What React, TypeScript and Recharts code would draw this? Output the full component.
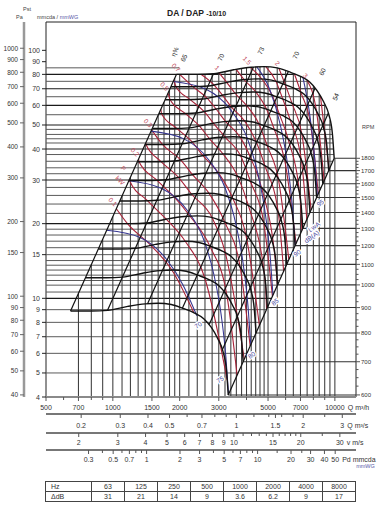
import React from 'react';
import { ComposedChart, Line, XAxis, YAxis, Scatter, ReferenceArea } from 'recharts';

// ---------------- values ----------------
// Fan characteristic at top speed: flow Q [m³/h] and static pressure [mmWG]
const fanQ = [1935, 2400, 2850, 3500, 4200, 4800, 5500, 6200, 7000, 7700, 8300, 8900, 9400, 9750, 9930];
const fanP = [80, 80, 80.5, 83.5, 85.5, 86, 85, 82, 78.5, 74.5, 69, 62, 55, 46, 36.7];
const topRpm = 1800;
const rpmCurves = [600, 700, 800, 900, 1000, 1100, 1200, 1300, 1400, 1500, 1600, 1700, 1800];
// absorbed power [kW] along the top-speed curve
const powQ = [1935, 2000, 3000, 4170, 5600, 7500, 9930];
const powKW = [0.65, 0.7, 1.0, 1.5, 2.0, 3.0, 4.1];
const powerLevels = [0.1, 0.15, 0.2, 0.25, 0.3, 0.4, 0.5, 0.6, 0.7, 0.85, 1, 1.25, 1.5, 1.75, 2, 2.5, 3, 3.5];
const powerLabelled = [0.1, 0.2, 0.3, 0.5, 0.7, 1, 1.5, 2, 3];
const powerExtraText = ['P', 'kW'];
const powerExtraQ = [1116, 1077];
const powerExtraP = [33.4, 29.9];
// efficiency lines: flow where each meets the top curve, and label
const etaTopQ = [1935, 2840, 4300, 6170, 8140, 9340];
const etaText = ['65', '70', '73', '70', '60', '54'];
// sound power lines LwA dB(A)
const noise70Q = [938, 1326, 1752, 2073, 2390];
const noise70P = [18.8, 17.6, 14.3, 11.3, 8.5];
const noise75Q = [1181, 1650, 2150, 2550, 2850, 3080, 3230, 3321];
const noise75P = [29.8, 27.8, 22.8, 17.5, 12.5, 8.5, 5.8, 4.1];
const noiseLevels = [75, 80, 85, 90, 95];
const noiseLabelText = ['70', '75', '80', '85', '90', '95', 'LwA', 'dB(A)'];
const noiseLabelQ = [2424, 3044, 4224, 5380, 6770, 8600, 8060, 7870];
const noiseLabelP = [7.8, 4.7, 5.9, 9.66, 15.2, 24.2, 19.4, 17.7];
// grid
const hLevels = [85, 80, 75, 70, 65, 60, 55, 50, 48, 45.8, 44, 42.3, 40, 38, 35.7, 33.6, 31.8, 30, 28, 26, 24, 22, 20, 19, 18, 17, 16, 15, 14.2, 13.6, 13, 12.4, 11.8, 11.3, 10.6, 10, 9, 8, 7, 6, 5];
const hMajor = [10, 20, 30, 40, 50, 60, 70, 80];
const vLines = [700, 800, 900, 1000, 1100, 1200, 1300, 1400, 1500, 1600, 1700, 1800, 1900, 2000, 2200, 2400, 2600, 2800, 3000, 3200, 3400, 3600, 3800, 4000, 4200, 4400, 4600, 4800, 5000, 5500, 6000, 6500, 7000, 7500, 8000, 8500, 9000, 9500, 10000];
// axes
const mmTicks = [4, 5, 6, 7, 8, 9, 10, 15, 20, 30, 40, 50, 60, 70, 80, 90, 100];
const paTicks = [40, 50, 60, 70, 80, 90, 100, 150, 200, 300, 400, 500, 600, 700, 800, 900, 1000];
const qLabels = [500, 700, 1000, 1500, 2000, 3000, 5000, 7000, 10000];
const qMinor = [600, 800, 900, 4000, 6000, 8000, 9000];
const qsLabels = [0.2, 0.3, 0.4, 0.5, 0.7, 1, 1.5, 2, 3];
const qsMinor = [0.6, 0.8, 0.9, 1.2, 1.4, 1.6, 1.8, 2.5];
const vLabels = [2, 3, 4, 5, 6, 7, 8, 9, 10, 15, 20, 30];
const vMinor = [11, 12, 13, 14, 16, 17, 18, 19, 25];
const pdLabels = [0.3, 0.5, 0.7, 1, 2, 3, 5, 7, 10, 20, 30, 40, 50];
const pdMinor = [0.4, 0.6, 0.8, 0.9, 4, 6, 8, 9, 15, 25];
// octave table
const hz = ['63', '125', '250', '500', '1000', '2000', '4000', '8000'];
const deltaDb = ['31', '21', '14', '9', '3.6', '6.2', '9', '17'];

// ---------------- constants ----------------
const P_MIN = 4, P_TOP = 130.1, Q_MIN = 500, Q_MAX = 12450;
const G = 9.80665, RHO = 1.2, AREA = 0.0975;

const logInterp = (xs: number[], ys: number[], x: number) => {
  const n = xs.length;
  if (x <= xs[0]) return ys[0];
  if (x >= xs[n - 1]) return ys[n - 1];
  for (let i = 1; i < n; i++) {
    if (x <= xs[i]) {
      const t = Math.log(x / xs[i - 1]) / Math.log(xs[i] / xs[i - 1]);
      return Math.exp(Math.log(ys[i - 1]) + t * Math.log(ys[i] / ys[i - 1]));
    }
  }
  return ys[n - 1];
};
const fanAt = (q: number) => logInterp(fanQ, fanP, q);
const Q0 = fanQ[0], P0 = fanP[0], QE = fanQ[fanQ.length - 1], PE = fanP[fanP.length - 1];
const sMin = rpmCurves[0] / topRpm;
const surgeP = (q: number) => P0 * (q / Q0) ** 2;
const topBoundary = (q: number) => (q < Q0 ? surgeP(q) : q <= QE ? fanAt(q) : PE);
const descQ = (P: number) => {
  for (let i = fanQ.length - 1; i > 0; i--) {
    if (fanP[i - 1] >= P && fanP[i] <= P && fanP[i - 1] !== fanP[i]) {
      const t = Math.log(P / fanP[i - 1]) / Math.log(fanP[i] / fanP[i - 1]);
      return fanQ[i - 1] * Math.pow(fanQ[i] / fanQ[i - 1], t);
    }
  }
  return QE;
};
const hEnd = (P: number) => (P > P0 ? Q0 * Math.sqrt(P / P0) : P <= PE ? QE * Math.sqrt(P / PE) : descQ(P));

type Pt = { q: number; p: number | null };
const seg = (a: Pt, b: Pt): Pt[] => [a, b, { q: b.q, p: null }];

const hMajorData = hLevels.filter((P) => hMajor.includes(P)).flatMap((P) => seg({ q: Q_MIN, p: P }, { q: hEnd(P), p: P }));
const hMinorData = hLevels.filter((P) => !hMajor.includes(P)).flatMap((P) => seg({ q: Q_MIN, p: P }, { q: hEnd(P), p: P }));
const vData = vLines.flatMap((q) => seg({ q, p: P_MIN }, { q, p: topBoundary(q) }));
const rpmData = rpmCurves.flatMap((n) => {
  const s = n / topRpm;
  const P = PE * s * s;
  return seg({ q: QE * s, p: P }, { q: Q_MAX, p: P });
});
const fanCurves = rpmCurves.map((n) => {
  const s = n / topRpm;
  return fanQ.map((q, i) => ({ q: q * s, p: fanP[i] * s * s }));
});
const etaLines = etaTopQ.map((t) => {
  const P = fanAt(t);
  return [{ q: t * sMin, p: P * sMin * sMin }, { q: t, p: P }];
});
const etaLabelData = etaTopQ.map((t, i) => ({ q: t, p: fanAt(t), t: etaText[i], i }));
const maxQLine = [{ q: QE * sMin, p: PE * sMin * sMin }, { q: QE, p: PE }];

const qForPower = (w: number) => logInterp(powKW, powQ, w);
const powerCurve = (W: number) => {
  const sStart = Math.min(1, Math.cbrt(W / powKW[0]));
  const sEnd = Math.max(sMin, Math.cbrt(W / powKW[powKW.length - 1]));
  if (sEnd >= sStart) return [] as Pt[];
  const ss = [
    sStart,
    ...rpmCurves.map((n) => n / topRpm).filter((s) => s < sStart - 1e-6 && s > sEnd + 1e-6).sort((a, b) => b - a),
    sEnd,
  ];
  return ss.map((s) => {
    const q = qForPower(W / s ** 3);
    return { q: q * s, p: fanAt(q) * s * s };
  });
};
const powerCurves = powerLevels.map(powerCurve);
const powerLabelData = powerLabelled.map((W) => ({ ...powerCurve(W)[0], t: String(W) }));
const powerExtraData = powerExtraText.map((t, i) => ({ q: powerExtraQ[i], p: powerExtraP[i], t }));

const inside = (pt: Pt) => (pt.p as number) <= topBoundary(pt.q) * 1.0005;
const cross = (a: Pt, b: Pt): Pt => {
  let lo = 0, hi = 1;
  const ia = inside(a);
  const at = (m: number) => ({ q: a.q * Math.pow(b.q / a.q, m), p: (a.p as number) * Math.pow((b.p as number) / (a.p as number), m) });
  for (let k = 0; k < 40; k++) {
    const m = (lo + hi) / 2;
    if (inside(at(m)) === ia) lo = m; else hi = m;
  }
  return at((lo + hi) / 2);
};
const clipTop = (pts: Pt[]) => {
  const out: Pt[] = [];
  pts.forEach((a, i) => {
    const ina = inside(a);
    const prevIn = i > 0 ? inside(pts[i - 1]) : ina;
    if (i > 0 && ina !== prevIn) out.push(cross(pts[i - 1], a));
    if (ina) out.push(a);
  });
  return out;
};
const noiseCurves = [
  noise70Q.map((q, i) => ({ q, p: noise70P[i] })),
  ...noiseLevels.map((L) => {
    const r = Math.pow(10, (L - noiseLevels[0]) / 50);
    return clipTop(noise75Q.map((q, i) => ({ q: q * r, p: noise75P[i] * r * r })));
  }),
];
const noiseLabelData = noiseLabelText.map((t, i) => ({ q: noiseLabelQ[i], p: noiseLabelP[i], t }));

// axis tick helpers
const buildTicks = (labels: number[], minor: number[], toQ: (v: number) => number) => {
  const map = new Map<number, string>();
  labels.forEach((v) => map.set(toQ(v), String(v)));
  const ticks = [...labels, ...minor].map(toQ).sort((a, b) => a - b);
  return { ticks, map };
};
const vToQ = (v: number) => v * AREA * 3600;
const qAx = buildTicks(qLabels, qMinor, (v) => v);
const qsAx = buildTicks(qsLabels, qsMinor, (v) => v * 3600);
const vAx = buildTicks(vLabels, vMinor, vToQ);
const pdAx = buildTicks(pdLabels, pdMinor, (pd) => vToQ(Math.sqrt((2 * G * pd) / RHO)));
const mmMap = new Map<number, string>(mmTicks.map((v) => [v, String(v)]));
const paMap = new Map<number, string>(paTicks.map((v) => [v / G, String(v)]));
const paTickVals = paTicks.map((v) => v / G);
const rpmTickVals: number[] = [];
for (let n = rpmCurves[0]; n <= topRpm; n += 25) rpmTickVals.push(n);
const rpmMap = new Map<number, string>(rpmCurves.map((n) => [n, String(n)]));
// invisible span so every secondary scale has a series bound to it
const axisSpan = [{ q: Q_MIN, p: P_MIN }, { q: Q_MAX, p: P_MIN }];

const TXT = '#333';
const mkXTick = (ax: { map: Map<number, string> }, base: number, unit: string, unitAt: number, sub?: string) => (props: any) => {
  const { x, y, payload } = props;
  const v = payload.value as number;
  const lab = ax.map.get(v);
  const isLast = lab !== undefined && lab === String(unitAt);
  const off = lab ? lab.length * 2 + 3 : 0;
  return (
    <g>
      <line x1={x} x2={x} y1={y} y2={y + (lab !== undefined ? 4 : 3)} stroke="#555" strokeWidth={1} />
      {lab !== undefined && (
        <text x={x} y={y + base} textAnchor="middle" fontSize={7} fill={TXT}>{lab}</text>
      )}
      {isLast && <text x={x + off} y={y + base} fontSize={7} fill={TXT}>{unit}</text>}
      {sub && isLast && <text x={x + off + 14} y={y + base + 6} fontSize={5.5} fill="#5a5aa8">{sub}</text>}
    </g>
  );
};
const mkYTick = (map: Map<number, string>, fs: number, color: string) => (props: any) => {
  const { x, y, payload } = props;
  return (
    <g>
      <line x1={x - 4} x2={x} y1={y} y2={y} stroke={color} strokeWidth={1} />
      <text x={x - 6} y={y + 2.5} textAnchor="end" fontSize={fs} fill={TXT}>{map.get(payload.value)}</text>
    </g>
  );
};
const rpmTick = (props: any) => {
  const { x, y, payload } = props;
  const lab = rpmMap.get(payload.value);
  return (
    <g>
      <line x1={x} x2={x + (lab ? 4 : 2.5)} y1={y} y2={y} stroke="#555" strokeWidth={1} />
      {lab && <text x={x + 5} y={y + 2.2} fontSize={6} fill={TXT}>{lab}</text>}
    </g>
  );
};

const RED = '#a82238', BLUE = '#34348f', BLK = '#121212';
const XM = 'ax1q';
const common = { xAxisId: XM, yAxisId: 'mm', dataKey: 'p', dot: false, activeDot: false, isAnimationActive: false, legendType: 'none' as const };

export default function App() {
  const cell = (w: number, left?: boolean): React.CSSProperties => ({
    border: '1px solid #444', width: w, height: 9, padding: 0, paddingLeft: left ? 5 : 0,
    textAlign: left ? 'left' : 'center', lineHeight: '9px', fontSize: 7, color: TXT,
  });
  const secAxis = { dataKey: 'q', type: 'number' as const, scale: 'log' as const, domain: [Q_MIN, Q_MAX], allowDataOverflow: true, interval: 0, tickSize: 0, tickMargin: 0, tickLine: false, axisLine: { stroke: '#777', strokeWidth: 2 } };
  return (
    <div style={{ position: 'absolute', left: 0, top: 0, width: 381, height: 516, background: '#fff', fontFamily: '"Liberation Sans", Arial, sans-serif' }}>
      <ComposedChart width={381} height={471} margin={{ top: 22, right: 0, bottom: 0, left: 0 }}>
        <XAxis xAxisId={XM} {...secAxis} ticks={qAx.ticks} height={17}
          axisLine={{ stroke: '#8a8a8a', strokeWidth: 2 }} tick={mkXTick(qAx, 13, 'Q m³/h', 10000)} />
        <XAxis xAxisId="ax2qs" {...secAxis} ticks={qsAx.ticks} height={19} tick={mkXTick(qsAx, 14, 'Q m³/s', 3)} />
        <XAxis xAxisId="ax3v" {...secAxis} ticks={vAx.ticks} height={17} tick={mkXTick(vAx, 12, 'v m/s', 30)} />
        <XAxis xAxisId="ax4pd" {...secAxis} ticks={pdAx.ticks} height={21} tick={mkXTick(pdAx, 12, 'Pd mmcda', 50, 'mmWG')} />
        <YAxis yAxisId="pa" type="number" scale="log" domain={[P_MIN, P_TOP]} allowDataOverflow
          ticks={paTickVals} interval={0} tickSize={0} tickMargin={0} tickLine={false} width={24}
          axisLine={{ stroke: '#999', strokeWidth: 2.5 }} tick={mkYTick(paMap, 6.5, '#666')} />
        <YAxis yAxisId="mm" dataKey="p" type="number" scale="log" domain={[P_MIN, P_TOP]} allowDataOverflow
          ticks={mmTicks} interval={0} tickSize={0} tickMargin={0} tickLine={false} width={22}
          axisLine={false} tick={mkYTick(mmMap, 7, '#222')} />
        <YAxis yAxisId="rpm" orientation="right" type="number" scale="log"
          domain={[topRpm * Math.sqrt(P_MIN / PE), topRpm * Math.sqrt(P_TOP / PE)]} allowDataOverflow
          ticks={rpmTickVals} interval={0} tickSize={0} tickMargin={0} tickLine={false} width={25}
          axisLine={false} tick={rpmTick} />

        {['ax2qs', 'ax3v', 'ax4pd'].map((id) => (
          <Line key={'ax' + id} xAxisId={id} yAxisId="mm" dataKey="p" data={axisSpan} stroke="none" dot={false}
            activeDot={false} isAnimationActive={false} legendType="none" />
        ))}

        <Line {...common} data={hMinorData} stroke="#5a5a5a" strokeWidth={1} type="linear" />
        <Line {...common} data={hMajorData} stroke="#1a1a1a" strokeWidth={1.15} type="linear" />
        <Line {...common} data={vData} stroke="#3c3c3c" strokeWidth={1.05} type="linear" />
        <Line {...common} data={rpmData} stroke="#333" strokeWidth={1.05} type="linear" />

        {powerCurves.map((d, i) => (
          <Line key={'pw' + i} {...common} data={d} stroke={RED} strokeWidth={1.1} type="monotone" />
        ))}
        {noiseCurves.map((d, i) => (
          <Line key={'nz' + i} {...common} data={d} stroke={BLUE} strokeWidth={1.05} type="monotone" />
        ))}
        {fanCurves.map((d, i) => (
          <Line key={'fc' + i} {...common} data={d} stroke={BLK} strokeWidth={1.4} type="monotone" />
        ))}
        {etaLines.map((d, i) => (
          <Line key={'eta' + i} {...common} data={d} stroke={BLK} strokeWidth={1.2} type="linear" />
        ))}
        <Line {...common} data={maxQLine} stroke={BLK} strokeWidth={1.25} type="linear" />

        <ReferenceArea xAxisId={XM} yAxisId="mm" x1={Q_MIN} x2={Q_MAX} y1={P_MIN} y2={P_TOP}
          fill="none" fillOpacity={0} stroke="#222" strokeWidth={1} ifOverflow="visible" />

        <Scatter xAxisId={XM} yAxisId="mm" data={etaLabelData} isAnimationActive={false} legendType="none"
          shape={(p: any) => {
            const a = (-65.8 * Math.PI) / 180;
            const cx = p.cx + 18 * Math.cos(a), cy = p.cy + 18 * Math.sin(a);
            const ex = p.cx + 20 * Math.cos(a) + 11 * Math.sin(a), ey = p.cy + 20 * Math.sin(a) - 11 * Math.cos(a);
            return (
              <g>
                <text transform={`translate(${cx},${cy}) rotate(-65.8)`} textAnchor="middle" dy={2.4} fontSize={6.5} fill="#222">{p.payload.t}</text>
                {p.payload.i === 0 && (
                  <text transform={`translate(${ex},${ey}) rotate(-65.8)`} textAnchor="middle" dy={2.4} fontSize={6.5} fill="#222">η%</text>
                )}
              </g>
            );
          }} />
        <Scatter xAxisId={XM} yAxisId="mm" data={powerLabelData} isAnimationActive={false} legendType="none"
          shape={(p: any) => (
            <text transform={`translate(${p.cx - 2},${p.cy - 2}) rotate(45)`} textAnchor="end" fontSize={6.5} fill="#c24a5c">{p.payload.t}</text>
          )} />
        <Scatter xAxisId={XM} yAxisId="mm" data={powerExtraData} isAnimationActive={false} legendType="none"
          shape={(p: any) => (
            <text transform={`translate(${p.cx},${p.cy}) rotate(45)`} textAnchor="middle" dy={2.2} fontSize={6.5} fill="#c24a5c">{p.payload.t}</text>
          )} />
        <Scatter xAxisId={XM} yAxisId="mm" data={noiseLabelData} isAnimationActive={false} legendType="none"
          shape={(p: any) => (
            <text transform={`translate(${p.cx},${p.cy}) rotate(-35)`} textAnchor="middle" dy={2.2} fontSize={6.5}
              fill="#4a4a9e" stroke="#fff" strokeWidth={2.6} paintOrder="stroke">{p.payload.t}</text>
          )} />
      </ComposedChart>

      <svg width={381} height={140} style={{ position: 'absolute', left: 0, top: 0, pointerEvents: 'none' }}>
        <text x={167} y={16} fontSize={8.5} fontWeight="bold" fill="#222">DA / DAP <tspan fontSize={7}>-10/10</tspan></text>
        <text x={23} y={11} fontSize={5.5} fill="#444">Pst</text>
        <text x={16} y={19} fontSize={5.5} fill="#444">Pa</text>
        <text x={37} y={19} fontSize={5.5} fill="#444">mmcda / <tspan fill="#5a5aa8">mmWG</tspan></text>
        <text x={362} y={129} fontSize={5.5} fill="#444">RPM</text>
      </svg>

      <table style={{ position: 'absolute', left: 45, top: 481, borderCollapse: 'collapse', tableLayout: 'fixed', width: 302 }}>
        <tbody>
          <tr>
            <td style={cell(40, true)}>Hz</td>
            {hz.map((h) => <td key={h} style={cell(32)}>{h}</td>)}
          </tr>
          <tr>
            <td style={cell(40, true)}>ΔdB</td>
            {deltaDb.map((d, i) => <td key={i} style={cell(32)}>{d}</td>)}
          </tr>
        </tbody>
      </table>
    </div>
  );
}
